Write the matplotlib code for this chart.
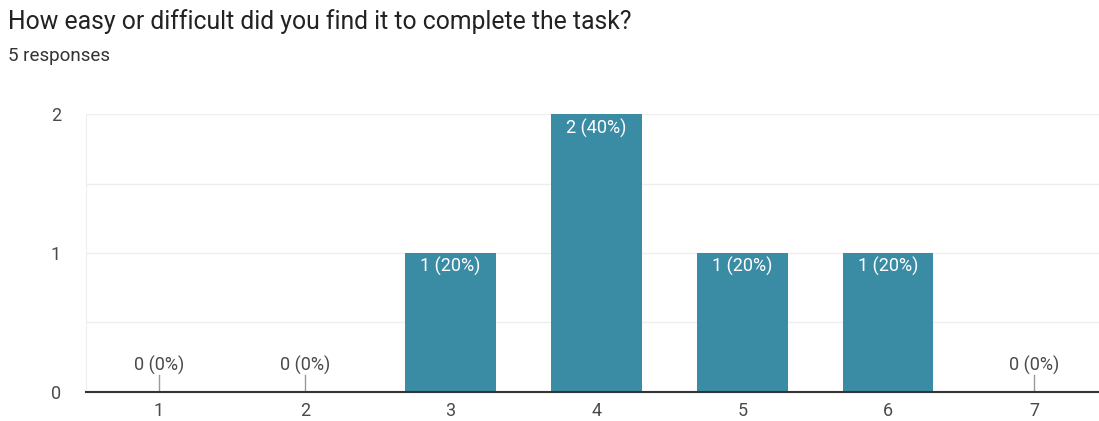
import matplotlib
matplotlib.use("Agg")
import matplotlib.pyplot as plt

plt.rcParams["font.family"] = ["Roboto", "DejaVu Sans"]

# survey answers on a 1-7 scale
scale = [1, 2, 3, 4, 5, 6, 7]
counts = [0, 0, 1, 2, 1, 1, 0]
total = 5

BAR = "#3a8ca5"
TXT = "#4a4a4a"

fig = plt.figure(figsize=(10.99, 4.21), dpi=100)
fig.text(0.007, 0.95, "How easy or difficult did you find it to complete the task?",
         fontsize=17.8, color="#222222", va="center", ha="left")
fig.text(0.007, 0.868, f"{total} responses", fontsize=13.5, color="#333333",
         va="center", ha="left")

ax = fig.add_axes([0.0783, 0.069, 0.9217, 0.66])
ax.bar(scale, counts, width=0.62, color=BAR, zorder=3)

for x, c in zip(scale, counts):
    lab = f"{c} ({c / total:.0%})"
    if c > 0:
        ax.text(x, c - 0.1, lab, ha="center", va="center", color="white",
                fontsize=13, zorder=4)
    else:
        ax.plot([x, x], [0, 0.12], color="#999999", lw=1, zorder=3)
        ax.text(x, 0.19, lab, ha="center", va="center", color=TXT,
                fontsize=13, zorder=4)

ax.set_xlim(0.5, 7.445)
ax.set_ylim(0, 2)
ax.set_yticks([0, 1, 2])
ax.set_yticks([0.5, 1.5], minor=True)
ax.set_xticks(scale)
ax.grid(axis="y", which="both", color="#eeeeee", lw=1, zorder=0)
ax.tick_params(axis="both", length=0, labelsize=13, labelcolor=TXT)
ax.tick_params(axis="x", pad=7)
ax.tick_params(axis="y", pad=18)
ax.tick_params(which="minor", length=0)

for s in ("top", "right"):
    ax.spines[s].set_visible(False)
ax.spines["left"].set_color("#eeeeee")
ax.spines["bottom"].set_color("#333333")
ax.spines["bottom"].set_linewidth(1.5)
ax.spines["bottom"].set_zorder(5)

fig.savefig("out.png", dpi=100, facecolor="white")
